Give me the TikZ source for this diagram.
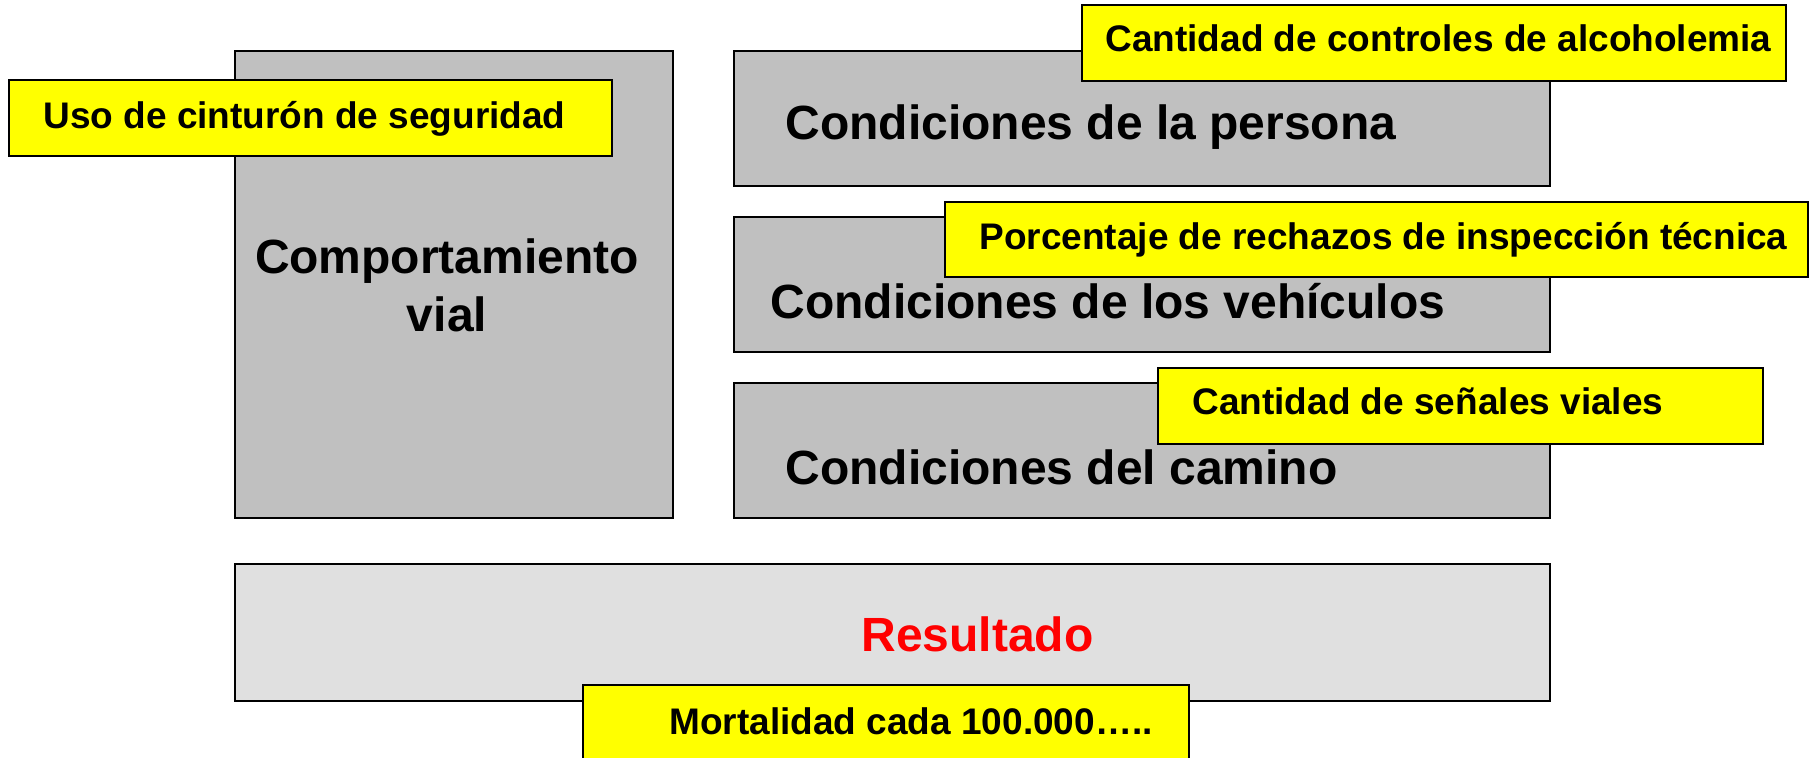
\documentclass[tikz,border=0pt]{standalone}
\usepackage{fontspec}
\setmainfont{Liberation Sans}
\usetikzlibrary{fit}

\definecolor{boxgray}{RGB}{192,192,192}
\definecolor{resgray}{RGB}{224,224,224}
\definecolor{noteyellow}{RGB}{255,255,0}

\tikzset{
	diagram/.style = {
		x = 0.5pt,
		y = -0.5pt,
		box/.style = {
			draw = black,
			line width = 0.75pt,
			inner sep = 0pt
		}
	},
	graybox/.style = {
		box,
		fill = boxgray
	},
	resbox/.style = {
		box,
		fill = resgray
	},
	notebox/.style = {
		box,
		fill = noteyellow
	},
	bigtext/.style = {
		inner sep = 0pt,
		anchor = base west,
		font = \fontsize{24}{29}\selectfont\bfseries
	},
	smalltext/.style = {
		inner sep = 0pt,
		anchor = base west,
		font = \fontsize{18.5}{22}\selectfont\bfseries
	}
}

\begin{document}
\begin{tikzpicture}[diagram]
	\useasboundingbox (0,0) rectangle (1810,758);

	% main blocks
	\node[graybox, fit = {(235,51) (673,518)}] (CV) {};
	\node[graybox, fit = {(734,51) (1550,186)}] (CP) {};
	\node[graybox, fit = {(734,217) (1550,352)}] (CVe) {};
	\node[graybox, fit = {(734,383) (1550,518)}] (CC) {};
	\node[resbox, fit = {(235,564) (1550,701)}] (R) {};

	\node[bigtext, anchor = base] (CV1) at (447,274) {Comportamiento};
	\node[bigtext, anchor = base] (CV2) at (447,332) {vial};
	\node[bigtext] (CPt) at (785,140) {Condiciones de la persona};
	\node[bigtext] (CVet) at (770,319) {Condiciones de los vehículos};
	\node[bigtext] (CCt) at (785,485) {Condiciones del camino};
	\node[bigtext, text = red] (Rt) at (861,652) {Resultado};

	% indicators
	\node[notebox, fit = {(9,80) (612,156)}] (U) {};
	\node[notebox, fit = {(1082,5) (1786,81)}] (A) {};
	\node[notebox, fit = {(945,202) (1808,277)}] (I) {};
	\node[notebox, fit = {(1158,368) (1763,444)}] (S) {};
	\node[notebox, fit = {(583,685) (1189,775)}] (M) {};

	\node[smalltext] (Ut) at (43,129) {Uso de cinturón de seguridad};
	\node[smalltext] (At) at (1105,52) {Cantidad de controles de alcoholemia};
	\node[smalltext] (It) at (979,250) {Porcentaje de rechazos de inspección técnica};
	\node[smalltext] (St) at (1192,415) {Cantidad de señales viales};
	\node[smalltext] (Mt) at (669,734) {Mortalidad cada 100.000…..};
\end{tikzpicture}
\end{document}
